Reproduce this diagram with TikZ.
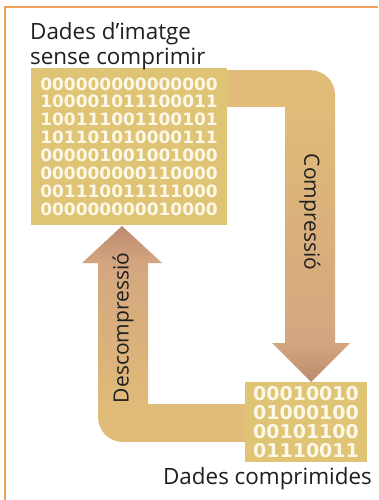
\documentclass[tikz,border=0pt]{standalone}
\usepackage{fontspec}
\setmainfont{Open Sans}
\newfontfamily\digitfont{DejaVu Sans}
\usetikzlibrary{backgrounds}
\definecolor{blockc}{RGB}{224,196,118}
\definecolor{bandc}{RGB}{224,188,120}
\definecolor{bandpink}{RGB}{212,166,128}
\definecolor{headc}{RGB}{188,138,110}
\definecolor{framec}{RGB}{240,160,90}
\definecolor{digitc}{RGB}{252,248,232}
\begin{document}
\begin{tikzpicture}[x=1pt,y=-1pt,
  block/.style={fill=blockc, inner sep=0pt, text=digitc, align=center},
  lbl/.style={font=\fontsize{21}{24}\selectfont, inner sep=0pt, text=black!88},
  hlbl/.style={lbl, font=\fontsize{22.4}{25}\selectfont}]
\useasboundingbox (0,0) rectangle (378,500);

% data blocks
\node[block, minimum width=196pt, minimum height=157pt,
      font=\digitfont\bfseries\fontsize{17}{17.9}\selectfont] (raw) at (129,146.5)
  {000000000000000\\100001011100011\\100111001100101\\101101010000111\\
   000001001001000\\000000000110000\\001110011111000\\000000000010000};
\node[block, minimum width=122pt, minimum height=80pt,
      font=\digitfont\bfseries\fontsize{19}{19}\selectfont] (comp) at (306,422)
  {00010010\\01000100\\00101100\\01110011};

% texts
\node[hlbl, anchor=north west, align=left] (title) at (30,22) {Dades d'imatge\\sense comprimir};
\node[hlbl, anchor=base east] (ctitle) at (372,484) {Dades comprimides};

\begin{scope}[on background layer]
  \fill[white] (0,0) rectangle (378,500);
  % compression arrow (raw -> comp)
  \fill[bandc] (215,70) rectangle (310,107);
  \fill[bandc] (310,95) circle[radius=25];
  \shade[top color=bandc, bottom color=bandpink] (285,95) rectangle (335,344);
  \shade[top color=bandpink, bottom color=headc] (272,343) -- (350,343) -- (311,382) -- cycle;
  % decompression arrow (comp -> raw)
  \fill[bandc] (123,404) rectangle (250,442);
  \fill[bandc] (123,417) circle[radius=25];
  \shade[top color=bandpink, bottom color=bandc] (98,262) rectangle (148,417);
  \shade[top color=headc, bottom color=bandpink] (82,263) -- (162,263) -- (122,226) -- cycle;
\end{scope}

\node[lbl, rotate=-90] (lcomp) at (310,212) {Compressió};
\node[lbl, rotate=90] (ldecomp) at (123,328) {Descompressió};

\draw[framec, line width=1.2pt] (5,500) -- (5,7) -- (378,7);
\end{tikzpicture}
\end{document}
